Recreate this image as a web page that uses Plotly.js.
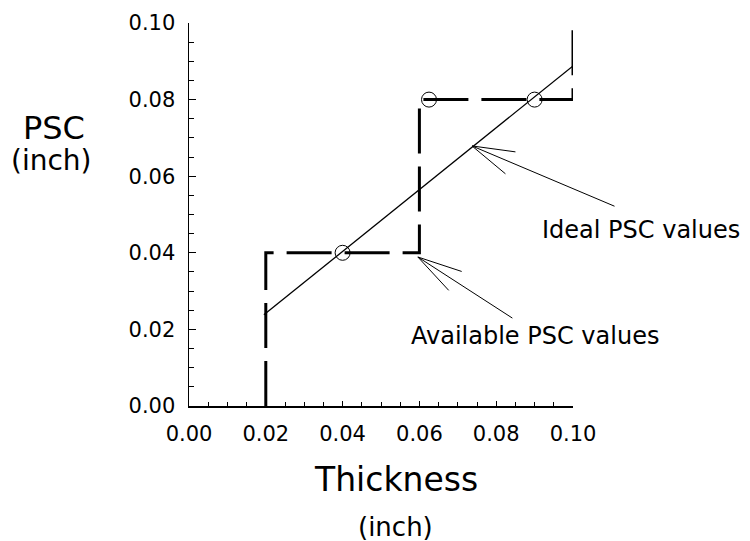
<!DOCTYPE html>
<html>
<head>
<meta charset="utf-8">
<script src="https://cdn.plot.ly/plotly-3.0.1.min.js"></script>
<style>html,body{margin:0;padding:0;background:#fff;}#chart{width:750px;height:541px;}</style>
</head>
<body>
<div id="chart"></div>
<script>
// Available PSC values (staircase)
const stepX = [0.02, 0.02, 0.06, 0.06, 0.10, 0.10];
const stepY = [0.00, 0.04, 0.04, 0.08, 0.08, 0.10];
// Ideal PSC line
const idealX = [0.0195, 0.10];
const idealY = [0.0238, 0.0888];
// Circled points
const ptX = [0.04, 0.0625, 0.09];
const ptY = [0.04, 0.08, 0.08];
// Tick labels
const tickVals = [0, 0.02, 0.04, 0.06, 0.08, 0.10];
const tickText = ['0.00', '0.02', '0.04', '0.06', '0.08', '0.10'];
// Annotation arrows (data units): tip, tail, two head barbs
const idealArrow = {tip: [0.0737, 0.0679], tail: [0.1112, 0.0520], barbs: [[0.0854, 0.0663], [0.0828, 0.0603]]};
const availArrow = {tip: [0.0596, 0.0389], tail: [0.0846, 0.0227], barbs: [[0.0714, 0.0350], [0.0680, 0.0298]]};
const labelIdeal = 'Ideal PSC values';
const labelAvail = 'Available PSC values';

const FONT = 'DejaVu Sans, sans-serif';

const traces = [
  {x: stepX, y: stepY, mode: 'lines', line: {color: '#000', width: 3, dash: '45px,13px'}, hoverinfo: 'skip'},
  {x: idealX, y: idealY, mode: 'lines', line: {color: '#000', width: 1.3}, hoverinfo: 'skip'},
  {x: ptX, y: ptY, mode: 'markers', marker: {symbol: 'circle-open', size: 15, color: '#000', line: {width: 1}}, cliponaxis: false, hoverinfo: 'skip'}
];

function arrowAnns(a) {
  const segs = [[a.tail, a.tip], [a.barbs[0], a.tip], [a.barbs[1], a.tip]];
  return segs.map(s => ({
    x: s[1][0], y: s[1][1], xref: 'x', yref: 'y',
    ax: s[0][0], ay: s[0][1], axref: 'x', ayref: 'y',
    text: '', showarrow: true, arrowhead: 0, arrowwidth: 1, arrowcolor: '#000', standoff: 0, startstandoff: 0
  }));
}

const annotations = [].concat(arrowAnns(idealArrow), arrowAnns(availArrow), [
  {x: 1.177, y: 0.4595, xref: 'paper', yref: 'paper', text: labelIdeal, showarrow: false, xanchor: 'center', yanchor: 'middle', font: {family: FONT, size: 24, color: '#000'}},
  {x: 0.0901, y: 0.0183, xref: 'x', yref: 'y', text: labelAvail, showarrow: false, xanchor: 'center', yanchor: 'middle', font: {family: FONT, size: 24, color: '#000'}},
  {x: -0.3516, y: 0.726, xref: 'paper', yref: 'paper', text: 'PSC', showarrow: false, xanchor: 'center', yanchor: 'middle', font: {family: FONT, size: 32, color: '#000'}},
  {x: -0.357, y: 0.640, xref: 'paper', yref: 'paper', text: '(inch)', showarrow: false, xanchor: 'center', yanchor: 'middle', font: {family: FONT, size: 28, color: '#000'}},
  {x: 0.539, y: -0.193, xref: 'paper', yref: 'paper', text: 'Thickness', showarrow: false, xanchor: 'center', yanchor: 'middle', font: {family: FONT, size: 33, color: '#000'}},
  {x: 0.539, y: -0.316, xref: 'paper', yref: 'paper', text: '(inch)', showarrow: false, xanchor: 'center', yanchor: 'middle', font: {family: FONT, size: 26, color: '#000'}}
]);

const layout = {
  width: 750, height: 541,
  margin: {l: 189, r: 177, t: 23, b: 135, pad: 0},
  paper_bgcolor: '#fff', plot_bgcolor: '#fff',
  showlegend: false,
  font: {family: FONT, color: '#000'},
  xaxis: {
    range: [0, 0.10], tickvals: tickVals, ticktext: tickText,
    ticks: 'inside', ticklen: 5, tickwidth: 1, tickcolor: '#000',
    minor: {dtick: 0.005, tick0: 0, ticks: 'inside', ticklen: 4, tickcolor: '#000', tickwidth: 1, showgrid: false},
    showline: true, linecolor: '#000', linewidth: 1.5, showgrid: false, zeroline: false,
    tickfont: {family: FONT, size: 21, color: '#000'}, ticklabelstandoff: 8
  },
  yaxis: {
    range: [0, 0.10], tickvals: tickVals, ticktext: tickText,
    ticks: 'inside', ticklen: 7, tickwidth: 1, tickcolor: '#000',
    minor: {dtick: 0.005, tick0: 0, ticks: 'inside', ticklen: 5, tickcolor: '#000', tickwidth: 1, showgrid: false},
    showline: true, linecolor: '#000', linewidth: 1.5, showgrid: false, zeroline: false,
    tickfont: {family: FONT, size: 21, color: '#000'}, ticklabelstandoff: 8
  },
  annotations: annotations
};

Plotly.newPlot('chart', traces, layout, {staticPlot: true, displayModeBar: false});
</script>
</body>
</html>
